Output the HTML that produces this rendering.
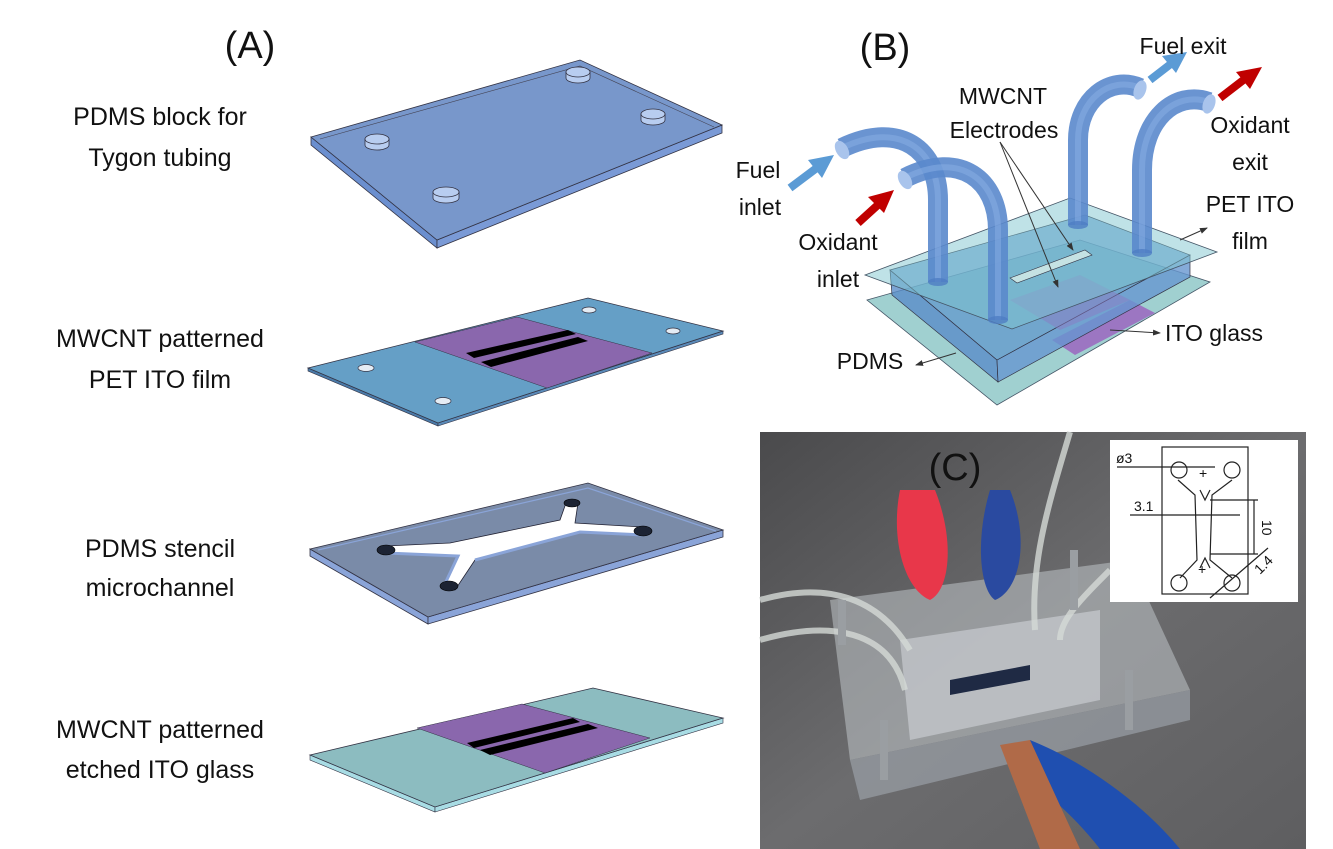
<!DOCTYPE html>
<html><head><meta charset="utf-8"><style>
html,body{margin:0;padding:0;background:#fff;width:1333px;height:849px;overflow:hidden}
svg{display:block}
text{font-family:"Liberation Sans",sans-serif;fill:#111}
</style></head><body>
<svg width="1333" height="849" viewBox="0 0 1333 849" xmlns="http://www.w3.org/2000/svg">
<defs>
<linearGradient id="bg" x1="0" y1="0" x2="1" y2="1"><stop offset="0" stop-color="#4a4a4c"/><stop offset="0.5" stop-color="#6c6c6e"/><stop offset="1" stop-color="#5e5e60"/></linearGradient>
<marker id="ah" markerWidth="8" markerHeight="8" refX="7" refY="4" orient="auto"><path d="M0,1 L8,4 L0,7z" fill="#333"/></marker>
</defs>

<!-- Panel A -->
<text x="250" y="58" font-size="38" text-anchor="middle">(A)</text>
<g font-size="25" text-anchor="middle">
<text x="160" y="125">PDMS block for</text><text x="160" y="166">Tygon tubing</text>
<text x="160" y="347">MWCNT patterned</text><text x="160" y="388">PET ITO film</text>
<text x="160" y="557">PDMS stencil</text><text x="160" y="596">microchannel</text>
<text x="160" y="738">MWCNT patterned</text><text x="160" y="778">etched ITO glass</text>
</g>

<!-- plate 1 -->
<polygon points="311,137 437,240 437,248 311,145" fill="#6b8fcf" stroke="#334" stroke-width="0.8"/>
<polygon points="437,240 722,125 722,133 437,248" fill="#7a9ad6" stroke="#334" stroke-width="0.8"/>
<polygon points="311,137 580,60 722,125 437,240" fill="#7897cb" stroke="#334" stroke-width="0.8"/>
<polyline points="320,139 580,66 714,127" fill="none" stroke="#445" stroke-width="0.6"/>
<g fill="#b8cdf0" stroke="#334" stroke-width="0.8">
<path d="M365,145 a12,5 0 0 0 24,0 v-6 h-24z"/><ellipse cx="377" cy="139" rx="12" ry="5"/>
<path d="M566,78 a12,5 0 0 0 24,0 v-6 h-24z"/><ellipse cx="578" cy="72" rx="12" ry="5"/>
<path d="M641,120 a12,5 0 0 0 24,0 v-6 h-24z"/><ellipse cx="653" cy="114" rx="12" ry="5"/>
<path d="M433,198 a13,5 0 0 0 26,0 v-6 h-26z"/><ellipse cx="446" cy="192" rx="13" ry="5"/>
</g>

<!-- plate 2 -->
<polygon points="308,368 438,423 438,426 308,371" fill="#4a7aa8" stroke="#334" stroke-width="0.6"/>
<polygon points="438,423 723,331 723,334 438,426" fill="#5a8ab8" stroke="#334" stroke-width="0.6"/>
<polygon points="308,368 588,298 723,331 438,423" fill="#659fc6" stroke="#334" stroke-width="0.8"/>
<polygon points="415,342 517,317 652,353 547,388" fill="#8a67ad" stroke="#334" stroke-width="0.5"/>
<polygon points="466,353 568,330 576,334 474,358" fill="#000"/>
<polygon points="481,362 578,337 588,341 491,367" fill="#000"/>
<g fill="#e4ecf4" stroke="#334" stroke-width="0.7">
<ellipse cx="366" cy="368" rx="8" ry="3.5"/><ellipse cx="443" cy="401" rx="8" ry="3.5"/><ellipse cx="589" cy="310" rx="7" ry="3"/><ellipse cx="673" cy="331" rx="7" ry="3"/>
</g>

<!-- plate 3 -->
<polygon points="310,549 428,617 428,624 310,556" fill="#8aa4d8" stroke="#334" stroke-width="0.8"/>
<polygon points="428,617 723,530 723,537 428,624" fill="#8aa4d8" stroke="#334" stroke-width="0.8"/>
<polygon points="310,549 588,483 723,530 428,617" fill="#7a8ba8" stroke="#334" stroke-width="0.8"/>
<polyline points="318,550 588,488 716,531" fill="none" stroke="#8aa4d8" stroke-width="1.2"/>
<polygon points="386,546 450,543 560,520 566,503 578,503 575,523 643,527 643,535 580,532 475,560 455,590 443,588 458,556 386,553" fill="#fff" stroke="#223" stroke-width="0.8"/>
<polyline points="386,553 458,556 443,588" fill="none" stroke="#8aa4d8" stroke-width="3"/>
<polyline points="475,560 580,532 643,535" fill="none" stroke="#8aa4d8" stroke-width="3"/>
<g fill="#1c2333" stroke="#000" stroke-width="0.6"><ellipse cx="386" cy="550" rx="9" ry="5"/><ellipse cx="449" cy="586" rx="9" ry="5"/><ellipse cx="572" cy="503" rx="8" ry="4"/><ellipse cx="643" cy="531" rx="9" ry="5"/></g>

<!-- plate 4 -->
<polygon points="310,755 435,807 435,812 310,760" fill="#a8dce4" stroke="#334" stroke-width="0.6"/>
<polygon points="435,807 723,718 723,723 435,812" fill="#a8dce4" stroke="#334" stroke-width="0.6"/>
<polygon points="310,755 593,688 723,718 435,807" fill="#8cbcc0" stroke="#334" stroke-width="0.8"/>
<polygon points="417,728 522,704 650,738 545,773" fill="#8a67ad" stroke="#334" stroke-width="0.5"/>
<polygon points="467,743 573,718 580,722 474,748" fill="#000"/>
<polygon points="480,750 588,724 598,728 490,755" fill="#000"/>

<!-- Panel B -->
<text x="885" y="60" font-size="38" text-anchor="middle">(B)</text>
<polygon points="867,300 1080,240 1210,282 997,405" fill="#8fc8c8" fill-opacity="0.85" stroke="#456" stroke-width="0.8"/>
<polygon points="1052,340 1130,300 1155,313 1075,355" fill="#9b6cc0" fill-opacity="0.9"/>
<polygon points="890,270 892,295 998,382 997,360" fill="#5a8cc8" fill-opacity="0.8" stroke="#334" stroke-width="0.7"/>
<polygon points="997,360 1190,255 1190,277 998,382" fill="#6696d0" fill-opacity="0.8" stroke="#334" stroke-width="0.7"/>
<polygon points="890,270 1085,215 1190,255 997,360" fill="#5d94cc" fill-opacity="0.7" stroke="#334" stroke-width="0.7"/>
<polygon points="1010,300 1080,275 1130,300 1060,330" fill="#8a7ac4" fill-opacity="0.5"/>
<polygon points="865,275 1070,198 1217,252 1012,329" fill="#7fc6d0" fill-opacity="0.5" stroke="#456" stroke-width="0.8"/>
<polygon points="1010,278 1085,250 1092,255 1017,283" fill="#d8eee8" fill-opacity="0.8" stroke="#334" stroke-width="0.6"/>
<g fill="none" stroke-linecap="butt" stroke-opacity="0.9">
<path d="M842,148 C900,120 938,150 938,200 L938,282" stroke="#5a88cc" stroke-width="20"/>
<path d="M842,148 C900,120 938,150 938,200 L938,282" stroke="#8ab0e6" stroke-width="6" stroke-opacity="0.5"/>
<path d="M905,178 C960,150 998,180 998,230 L998,320" stroke="#5a88cc" stroke-width="20"/>
<path d="M905,178 C960,150 998,180 998,230 L998,320" stroke="#8ab0e6" stroke-width="6" stroke-opacity="0.5"/>
<path d="M1078,225 L1078,140 C1078,100 1110,75 1140,88" stroke="#5a88cc" stroke-width="20"/>
<path d="M1078,225 L1078,140 C1078,100 1110,75 1140,88" stroke="#8ab0e6" stroke-width="6" stroke-opacity="0.5"/>
<path d="M1142,253 L1142,170 C1142,120 1175,90 1209,102" stroke="#5a88cc" stroke-width="20"/>
<path d="M1142,253 L1142,170 C1142,120 1175,90 1209,102" stroke="#8ab0e6" stroke-width="6" stroke-opacity="0.5"/>
</g>
<g fill="#a9c4ec"><ellipse cx="842" cy="150" rx="6" ry="10" transform="rotate(-30 842 150)"/><ellipse cx="905" cy="180" rx="6" ry="10" transform="rotate(-30 905 180)"/><ellipse cx="1140" cy="90" rx="6" ry="10" transform="rotate(20 1140 90)"/><ellipse cx="1209" cy="104" rx="6" ry="10" transform="rotate(20 1209 104)"/></g>
<g fill="#4f7ec4" opacity="0.8"><ellipse cx="938" cy="282" rx="10" ry="4"/><ellipse cx="998" cy="320" rx="10" ry="4"/><ellipse cx="1078" cy="225" rx="10" ry="4"/><ellipse cx="1142" cy="253" rx="10" ry="4"/></g>
<g stroke-width="8" fill="none"><line x1="790" y1="188" x2="818" y2="167" stroke="#5b9bd5"/><line x1="858" y1="223" x2="880" y2="203" stroke="#c00000"/><line x1="1150" y1="80" x2="1172" y2="63" stroke="#5b9bd5"/><line x1="1220" y1="98" x2="1246" y2="78" stroke="#c00000"/></g>
<polygon points="834,155 808,160 822,178" fill="#5b9bd5"/>
<polygon points="894,190 868,197 884,213" fill="#c00000"/>
<polygon points="1187,52 1162,56 1176,73" fill="#5b9bd5"/>
<polygon points="1262,67 1236,72 1250,89" fill="#c00000"/>
<g stroke="#333" stroke-width="1" fill="none" marker-end="url(#ah)">
<line x1="1000" y1="142" x2="1073" y2="250"/><line x1="1000" y1="142" x2="1058" y2="287"/>
<line x1="1180" y1="240" x2="1207" y2="228"/><line x1="1110" y1="330" x2="1160" y2="333"/><line x1="956" y1="353" x2="916" y2="365"/>
</g>
<g font-size="23" text-anchor="middle">
<text x="1183" y="54">Fuel exit</text>
<text x="1003" y="104">MWCNT</text><text x="1004" y="138">Electrodes</text>
<text x="758" y="178">Fuel</text><text x="760" y="215">inlet</text>
<text x="838" y="250">Oxidant</text><text x="838" y="287">inlet</text>
<text x="1250" y="133">Oxidant</text><text x="1250" y="170">exit</text>
<text x="1250" y="212">PET ITO</text><text x="1250" y="249">film</text>
<text x="1214" y="341">ITO glass</text>
<text x="870" y="369">PDMS</text>
</g>

<!-- Panel C photo -->
<rect x="760" y="432" width="546" height="417" fill="url(#bg)"/>
<path d="M830,600 L1130,560 L1190,690 L850,760 Z" fill="#b8bcc0" fill-opacity="0.6"/>
<path d="M850,760 L1190,690 L1190,720 L860,800 Z" fill="#9aa0a6" fill-opacity="0.7"/>
<path d="M900,640 L1100,610 L1100,700 L910,740 Z" fill="#d0d4d8" fill-opacity="0.6"/>
<path d="M950,680 L1030,665 L1030,680 L950,695 Z" fill="#1f2a44"/>
<path d="M900,490 C890,540 905,590 930,600 C950,590 955,540 935,490 Z" fill="#e8374a"/>
<path d="M990,490 C975,540 980,590 995,600 C1020,590 1030,540 1010,490 Z" fill="#2a4aa0"/>
<path d="M1030,740 C1080,760 1140,800 1180,849 L1100,849 C1070,810 1040,790 1020,770 Z" fill="#1f4fb0"/>
<path d="M1000,745 L1030,740 L1080,849 L1040,849 Z" fill="#b06a48"/>
<g stroke="#d4dad6" stroke-width="6" fill="none" stroke-opacity="0.8"><path d="M760,600 C830,580 880,600 910,650"/><path d="M760,640 C830,620 890,630 905,690"/><path d="M1070,432 C1050,500 1030,560 1035,630"/><path d="M1110,570 C1080,600 1060,620 1060,640"/></g>
<g fill="#9a9ea2"><rect x="838" y="600" width="8" height="45"/><rect x="880" y="720" width="8" height="60"/><rect x="1070" y="550" width="8" height="60"/><rect x="1125" y="670" width="8" height="60"/></g>
<text x="955" y="480" font-size="38" text-anchor="middle">(C)</text>
<rect x="1110" y="440" width="188" height="162" fill="#fff"/>
<g stroke="#222" stroke-width="1.2" fill="none">
<rect x="1162" y="447" width="86" height="147"/>
<path d="M1178,480 L1195,495 L1197,560 L1180,578 M1232,480 L1212,495 L1210,560 L1232,578 M1200,490 L1205,500 L1210,490 M1200,568 L1205,558 L1210,568"/>
<circle cx="1179" cy="470" r="8"/><circle cx="1232" cy="470" r="8"/><circle cx="1179" cy="583" r="8"/><circle cx="1232" cy="583" r="8"/>
<line x1="1117" y1="467" x2="1215" y2="467"/><line x1="1130" y1="515" x2="1240" y2="515"/>
<line x1="1210" y1="500" x2="1258" y2="500"/><line x1="1210" y1="554" x2="1258" y2="554"/><line x1="1254" y1="500" x2="1254" y2="554"/>
<line x1="1210" y1="598" x2="1268" y2="548"/>
</g>
<g font-size="14" fill="#222"><text x="1116" y="463">ø3</text><text x="1134" y="511">3.1</text><text x="1262" y="520" transform="rotate(90 1262 520)">10</text><text x="1260" y="575" transform="rotate(-45 1260 575)">1.4</text></g>
<text x="1199" y="478" font-size="14">+</text><text x="1198" y="574" font-size="14">+</text>
</svg>
</body></html>
